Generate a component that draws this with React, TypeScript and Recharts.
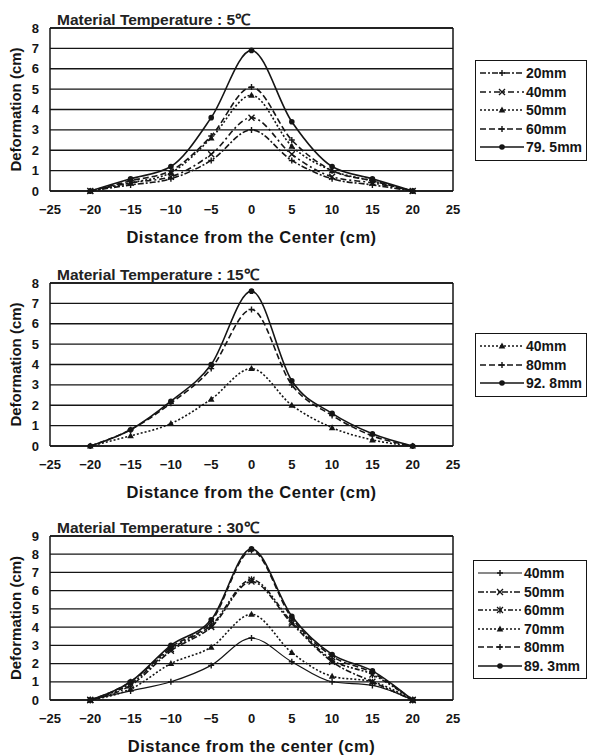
import React from "react";
import {
  LineChart, Line, XAxis, YAxis, CartesianGrid, ReferenceLine, Label,
} from "recharts";

// distance from the center (cm)
const DIST = [-20, -15, -10, -5, 0, 5, 10, 15, 20];
const X_TICKS = [-25, -20, -15, -10, -5, 0, 5, 10, 15, 20, 25];

// 5°C
const T5_20 = [0, 0.3, 0.6, 1.5, 3.0, 1.5, 0.6, 0.3, 0];
const T5_40 = [0, 0.4, 0.7, 1.8, 3.6, 1.8, 0.7, 0.4, 0];
const T5_50 = [0, 0.4, 0.9, 2.6, 4.7, 2.2, 1.0, 0.5, 0];
const T5_60 = [0, 0.5, 1.0, 2.7, 5.1, 2.5, 1.0, 0.5, 0];
const T5_795 = [0, 0.6, 1.2, 3.6, 6.9, 3.4, 1.2, 0.6, 0];

// 15°C
const T15_40 = [0, 0.5, 1.1, 2.3, 3.8, 2.0, 0.9, 0.3, 0];
const T15_80 = [0, 0.8, 2.1, 3.8, 6.7, 3.0, 1.5, 0.5, 0];
const T15_928 = [0, 0.8, 2.2, 4.0, 7.6, 3.2, 1.6, 0.6, 0];

// 30°C
const T30_40 = [0, 0.5, 1.0, 1.9, 3.4, 2.1, 1.0, 0.8, 0];
const T30_50 = [0, 0.8, 2.7, 4.0, 6.5, 4.2, 2.1, 1.0, 0];
const T30_60 = [0, 0.9, 2.8, 4.1, 6.6, 4.3, 2.2, 1.4, 0];
const T30_70 = [0, 0.6, 2.0, 2.9, 4.7, 2.6, 1.3, 1.0, 0];
const T30_80 = [0, 1.0, 2.9, 4.3, 8.2, 4.5, 2.4, 1.5, 0];
const T30_893 = [0, 1.0, 3.0, 4.4, 8.3, 4.6, 2.5, 1.6, 0];

const INK = "#151515";
const FONT = "'Liberation Sans', Arial, sans-serif";

type Shape = "plus" | "x" | "tri" | "dot" | "star";

interface Series {
  name: string;
  values: number[];
  dash?: string;
  shape: Shape;
  width?: number;
}

function Mark({ cx, cy, shape }: { cx: number; cy: number; shape: Shape }) {
  if (cx == null || cy == null || isNaN(cx) || isNaN(cy)) return null;
  switch (shape) {
    case "plus":
      return <path d={`M${cx - 3},${cy}H${cx + 3}M${cx},${cy - 3}V${cy + 3}`} stroke={INK} strokeWidth={1.4} fill="none" />;
    case "x":
      return <path d={`M${cx - 3},${cy - 3}L${cx + 3},${cy + 3}M${cx - 3},${cy + 3}L${cx + 3},${cy - 3}`} stroke={INK} strokeWidth={1.4} fill="none" />;
    case "star":
      return <path d={`M${cx - 3},${cy - 3}L${cx + 3},${cy + 3}M${cx - 3},${cy + 3}L${cx + 3},${cy - 3}M${cx},${cy - 3.5}V${cy + 3.5}`} stroke={INK} strokeWidth={1.2} fill="none" />;
    case "tri":
      return <path d={`M${cx},${cy - 3.5}L${cx + 3.3},${cy + 2.5}L${cx - 3.3},${cy + 2.5}Z`} fill={INK} />;
    default:
      return <circle cx={cx} cy={cy} r={2.8} fill={INK} />;
  }
}

const makeDot = (shape: Shape) => (p: any) => (
  <g key={`${p.dataKey}-${p.index}`}>
    <Mark cx={p.cx} cy={p.cy} shape={shape} />
  </g>
);

function LegendBox({ series, left, top, width }: { series: Series[]; left: number; top: number; width: number }) {
  return (
    <div style={{ position: "absolute", left, top, width, boxSizing: "border-box", border: `1.5px solid ${INK}`, background: "#fff", padding: "3px 3px 3px 4px", fontFamily: FONT }}>
      {series.map((s) => (
        <div key={s.name} style={{ display: "flex", alignItems: "center", height: 18.5 }}>
          <svg width={44} height={14} style={{ flex: "none" }}>
            <line x1={0} y1={7} x2={44} y2={7} stroke={INK} strokeWidth={s.width ?? 1.5} strokeDasharray={s.dash} />
            <Mark cx={22} cy={7} shape={s.shape} />
          </svg>
          <span style={{ fontSize: 14, fontWeight: 700, color: INK, marginLeft: 2, whiteSpace: "nowrap" }}>{s.name}</span>
        </div>
      ))}
    </div>
  );
}

interface PanelProps {
  top: number;
  height: number;
  marginTop: number;
  bottom: number;
  title: string;
  xLabel: string;
  yMax: number;
  series: Series[];
  legendTop: number;
  legendLeft: number;
  legendWidth: number;
}

function Panel(props: PanelProps) {
  const { top, height, marginTop, bottom, title, xLabel, yMax, series, legendTop, legendLeft, legendWidth } = props;
  const data = DIST.map((d, i) => {
    const row: Record<string, number> = { x: d };
    series.forEach((s) => { row[s.name] = s.values[i]; });
    return row;
  });
  const yTicks = Array.from({ length: yMax + 1 }, (_, i) => i);
  const tickStyle = { fontSize: 13, fontWeight: 700, fill: INK, fontFamily: FONT };
  return (
    <div style={{ position: "absolute", left: 0, top, width: 589, height }}>
      <LineChart width={589} height={height} data={data} margin={{ top: marginTop, right: 136, left: 5, bottom }}>
        <CartesianGrid vertical={false} stroke={INK} strokeWidth={1.3} strokeOpacity={1} />
        <XAxis
          dataKey="x" type="number" domain={[-25, 25]} ticks={X_TICKS} allowDataOverflow interval={0}
          tickLine={false} tickSize={0} tickMargin={14} height={55}
          axisLine={{ stroke: INK, strokeWidth: 1.5 }} tick={tickStyle}
          tickFormatter={(v: number) => (v < 0 ? `\u2212${Math.abs(v)}` : `${v}`)}
        >
          <Label value={xLabel} position="insideBottom" offset={3} style={{ fontSize: 16.5, letterSpacing: 0.5, fontWeight: 700, fill: INK, fontFamily: FONT }} />
        </XAxis>
        <YAxis
          type="number" domain={[0, yMax]} ticks={yTicks} width={45} interval={0}
          tickLine={false} tickSize={0} tickMargin={11}
          axisLine={{ stroke: INK, strokeWidth: 1.5 }} tick={tickStyle}
        >
          <Label value="Deformation (cm)" angle={-90} position="insideLeft" offset={11} style={{ textAnchor: "middle", fontSize: 15, fontWeight: 700, fill: INK, fontFamily: FONT }} />
        </YAxis>
        <ReferenceLine x={25} stroke={INK} strokeWidth={1.5} />
        <ReferenceLine y={yMax} stroke={INK} strokeWidth={1.5} />
        {series.map((s) => (
          <Line
            key={s.name} dataKey={s.name} name={s.name} type="monotone"
            stroke={INK} strokeWidth={s.width ?? 1.6} strokeDasharray={s.dash}
            dot={makeDot(s.shape)} activeDot={false} isAnimationActive={false}
          />
        ))}
      </LineChart>
      <div style={{ position: "absolute", left: 57, top: marginTop - 20, fontFamily: FONT, fontSize: 15.5, fontWeight: 700, color: "#222", whiteSpace: "nowrap" }}>
        {title}
      </div>
      <LegendBox series={series} left={legendLeft} top={legendTop} width={legendWidth} />
    </div>
  );
}

const SERIES_5: Series[] = [
  { name: "20mm", values: T5_20, dash: "6 2 2 2", shape: "plus" },
  { name: "40mm", values: T5_40, dash: "6 3 2 3", shape: "x" },
  { name: "50mm", values: T5_50, dash: "2 2", shape: "tri" },
  { name: "60mm", values: T5_60, dash: "6 3", shape: "plus" },
  { name: "79. 5mm", values: T5_795, shape: "dot" },
];

const SERIES_15: Series[] = [
  { name: "40mm", values: T15_40, dash: "2 2", shape: "tri" },
  { name: "80mm", values: T15_80, dash: "6 3", shape: "plus" },
  { name: "92. 8mm", values: T15_928, shape: "dot" },
];

const SERIES_30: Series[] = [
  { name: "40mm", values: T30_40, shape: "plus", width: 1.2 },
  { name: "50mm", values: T30_50, dash: "6 2 2 2", shape: "x" },
  { name: "60mm", values: T30_60, dash: "5 2 2 2 2 2", shape: "star" },
  { name: "70mm", values: T30_70, dash: "2 2", shape: "tri" },
  { name: "80mm", values: T30_80, dash: "6 3", shape: "plus" },
  { name: "89. 3mm", values: T30_893, shape: "dot" },
];

export default function App() {
  return (
    <div style={{ position: "absolute", left: 0, top: 0, width: 589, height: 755, background: "#fff" }}>
      <Panel top={0} height={250} marginTop={28} bottom={4} title="Material Temperature : 5℃"
        xLabel="Distance from the Center (cm)" yMax={8} series={SERIES_5}
        legendTop={60} legendLeft={475} legendWidth={112} />
      <Panel top={255} height={250} marginTop={28} bottom={4} title="Material Temperature : 15℃"
        xLabel="Distance from the Center (cm)" yMax={8} series={SERIES_15}
        legendTop={78} legendLeft={475} legendWidth={112} />
      <Panel top={510} height={245} marginTop={26} bottom={0} title="Material Temperature : 30℃"
        xLabel="Distance from the center (cm)" yMax={9} series={SERIES_30}
        legendTop={50} legendLeft={473} legendWidth={114} />
    </div>
  );
}
